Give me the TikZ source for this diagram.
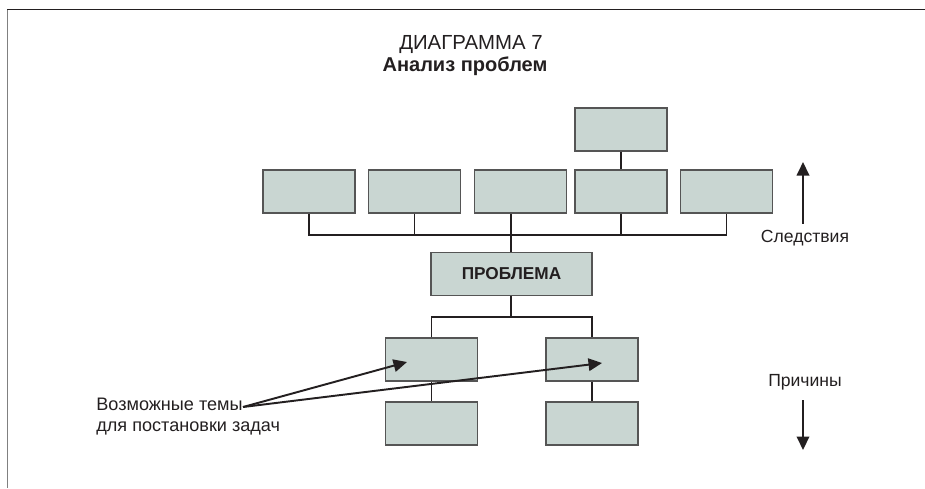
\documentclass[tikz,border=0pt]{standalone}
\usepackage{fontspec}
\setmainfont{Liberation Sans}
\usepackage{tikz}
\usetikzlibrary{positioning, arrows.meta, calc}

\definecolor{boxfill}{HTML}{C9D6D2}
\definecolor{boxline}{HTML}{555555}
\definecolor{ink}{HTML}{231F20}

\begin{document}
\begin{tikzpicture}[
  x=0.02cm, y=-0.02cm,
  font=\fontsize{10}{11}\selectfont,
  block/.style={draw=boxline, fill=boxfill, line width=0.6pt,
    minimum width=1.84cm, minimum height=0.86cm, inner sep=0pt},
  link/.style={draw=ink, line width=1.1pt},
  pointer/.style={-{Triangle[length=2.7mm, width=2.5mm]}, draw=ink, fill=ink, line width=1.1pt},
  label/.style={text=ink, inner sep=0pt},
]
  \useasboundingbox (0,0) rectangle (925,488);

  % frame (top and left edges)
  \draw[ink, line width=1.1pt] (7,9.5) -- (925,9.5);
  \draw[gray, line width=1.1pt] (7.5,9.5) -- (7.5,488);

  % Title
  \node[label, font=\fontsize{11.6}{13}\selectfont] (title) at (471,45) {ДИАГРАММА 7};
  \node[label, font=\fontsize{11.4}{13}\selectfont\bfseries] (subtitle) at (465,66) {Анализ проблем};

  % Consequences
  \node[block] (c1) at (309,191.5) {};
  \node[block] (c2) at (414.5,191.5) {};
  \node[block] (c3) at (520.5,191.5) {};
  \node[block] (c4) at (621,191.5) {};
  \node[block] (c5) at (726.5,191.5) {};
  \node[block] (c6) at (621,129.5) {};

  % Problem
  \node[block, minimum width=3.22cm, font=\fontsize{9.8}{11}\selectfont\bfseries,
        text=ink] (prob) at (511.5,274) {ПРОБЛЕМА};

  % Causes
  \node[block] (r1) at (431.5,359.5) {};
  \node[block] (r2) at (592,359.5) {};
  \node[block] (s1) at (431.5,423.5) {};
  \node[block] (s2) at (592,423.5) {};

  % Upper tree
  \coordinate (bus) at (511,235);
  \draw[link] (c6) -- (c4);
  \draw[link] (c1.south) |- (c5.south |- bus) -- (c5.south);
  \foreach \n in {c2, c4} \draw[link] (\n.south) -- (\n.south |- bus);
  \draw[link] (prob.north -| bus) -- (c3.south -| bus);

  % Lower tree
  \coordinate (lbus) at (511,317);
  \draw[link] (prob.south -| lbus) -- (lbus);
  \draw[link] (r1.north) |- (lbus) -| (r2.north);
  \draw[link] (r1) -- (s1);
  \draw[link] (r2) -- (s2);

  % Side labels
  \node[label] (cons) at (805,238) {Следствия};
  \node[label] (caus) at (805,382) {Причины};
  \coordinate (upTip) at (803,162);
  \coordinate (downTip) at (803,450);
  \draw[pointer] (cons.north -| upTip) ++(0,-6) -- (upTip);
  \draw[pointer] (caus.south -| downTip) ++(0,10) -- (downTip);

  % Possible topics
  \node[label, anchor=north west, align=left, font=\fontsize{10.3}{11}\selectfont] (note) at (96,398)
    {Возможные темы\\[1pt]для постановки задач};
  \coordinate (src) at (243,407);
  \coordinate (t1) at (407,362);
  \coordinate (t2) at (602,363);
  \draw[pointer] (src) -- (t1);
  \draw[pointer] (src) -- (t2);
\end{tikzpicture}
\end{document}
